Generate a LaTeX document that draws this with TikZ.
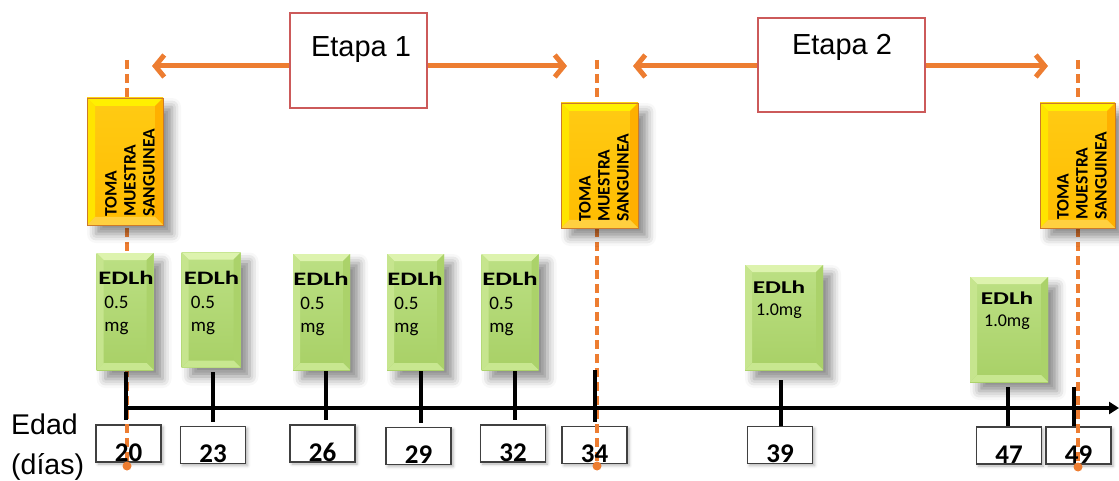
\documentclass[tikz,border=0pt]{standalone}
\usepackage{graphicx}
\usepackage{fontspec}
\setmainfont{Liberation Sans}
\newfontfamily\calfont{Carlito}
\usetikzlibrary{arrows.meta,shadows.blur}
\definecolor{orng}{HTML}{ED7D31}
\definecolor{etred}{HTML}{CC5A5A}
\definecolor{gtop}{HTML}{BCE084}
\definecolor{gbot}{HTML}{A8D066}
\definecolor{gbevT}{HTML}{DDF3AE}
\definecolor{gbevL}{HTML}{C6E58E}
\definecolor{gbevR}{HTML}{ABD26A}
\definecolor{gbevB}{HTML}{C8E790}
\definecolor{ytop}{HTML}{FFCB14}
\definecolor{ybot}{HTML}{FFBC00}
\definecolor{ybevT}{HTML}{FFF000}
\definecolor{ybevL}{HTML}{FFE400}
\definecolor{ybevR}{HTML}{FFB000}
\definecolor{ybevB}{HTML}{FFD040}
\definecolor{ybrd}{HTML}{CC7A29}
\newcommand\drawbevels[5]{%
  \path (path picture bounding box.north west) coordinate (q1)
        (path picture bounding box.north east) coordinate (q2)
        (path picture bounding box.south east) coordinate (q3)
        (path picture bounding box.south west) coordinate (q4);
  \fill[#1] (q1) -- (q2) -- ([shift={(-#5,-#5)}]q2) -- ([shift={(#5,-#5)}]q1) -- cycle;
  \fill[#2] (q1) -- ([shift={(#5,-#5)}]q1) -- ([shift={(#5,#5)}]q4) -- (q4) -- cycle;
  \fill[#3] (q2) -- (q3) -- ([shift={(-#5,#5)}]q3) -- ([shift={(-#5,-#5)}]q2) -- cycle;
  \fill[#4] (q4) -- (q3) -- ([shift={(-#5,#5)}]q3) -- ([shift={(#5,#5)}]q4) -- cycle;
}
\newcommand\edl{\scalebox{1.4}[1]{\bfseries EDLh}}
\tikzset{
  greenbox/.style={rectangle, inner sep=0pt, top color=gtop, bottom color=gbot, draw=none,
    blur shadow={shadow xshift=9pt, shadow yshift=-9pt, shadow blur radius=9pt, shadow opacity=45},
    path picture={\drawbevels{gbevT}{gbevL}{gbevR}{gbevB}{7pt}}},
  yellowbox/.style={rectangle, inner sep=0pt, top color=ytop, bottom color=ybot, draw=ybrd, line width=0.8pt,
    blur shadow={shadow xshift=9pt, shadow yshift=-9pt, shadow blur radius=9pt, shadow opacity=45},
    path picture={\drawbevels{ybevT}{ybevL}{ybevR}{ybevB}{8pt}}},
  numbox/.style={rectangle, draw=black!75, line width=1.3pt, fill=white, minimum width=65pt,
    minimum height=37pt, inner sep=0pt,
    blur shadow={shadow xshift=2pt, shadow yshift=-2pt, shadow blur radius=3pt, shadow opacity=30}},
  numtext/.style={inner sep=0pt, anchor=base, font=\calfont\bfseries\fontsize{27}{30}\selectfont},
  etbox/.style={rectangle, draw=etred, line width=1.8pt, fill=white, inner sep=0pt},
  ettext/.style={inner sep=0pt, anchor=base, font=\fontsize{29}{33}\selectfont},
  labtext/.style={inner sep=0pt, anchor=base west, font=\fontsize{28.5}{33}\selectfont},
  ytext/.style={rotate=90, align=left, inner sep=0pt, anchor=west,
    font=\calfont\bfseries\fontsize{17.5}{19}\selectfont},
  gtext/.style={align=left, inner sep=0pt, anchor=north, font=\calfont\fontsize{19}{23.5}\selectfont},
  gtextb/.style={align=center, inner sep=0pt, anchor=north, font=\calfont\fontsize{18}{22}\selectfont},
  dashln/.style={draw=orng, line width=3.5pt, dash pattern=on 9pt off 5pt},
  tickln/.style={draw=black, line width=4pt},
  axisln/.style={draw=black, line width=4pt, -{Triangle[length=10pt,width=12pt]}},
  etarrow/.style={draw=orng, line width=5pt, -{Straight Barb[length=9pt,width=22pt]}}
}
\begin{document}
\begin{tikzpicture}[x=1pt,y=-1pt]
\useasboundingbox (0,0) rectangle (1119,481);

% number boxes
\node[numbox] (n20) at (128.5,443.5) {};
\node[numbox] (n23) at (213,445) {};
\node[numbox] (n26) at (322.5,443.5) {};
\node[numbox] (n29) at (418.5,446) {};
\node[numbox] (n32) at (513,443.5) {};
\node[numbox] (n34) at (594.5,445) {};
\node[numbox] (n39) at (780,445) {};
\node[numbox] (n47) at (1009,445.5) {};
\node[numbox] (n49) at (1078.5,445.5) {};

% dashed orange lines
\coordinate (d1a) at (127,60);  \coordinate (d1b) at (127,466);
\coordinate (d2a) at (597,60);  \coordinate (d2b) at (597,466);
\coordinate (d3a) at (1078,60); \coordinate (d3b) at (1078,467);
\draw[dashln] (d1a) -- (d1b);
\draw[dashln] (d2a) -- (d2b);
\draw[dashln] (d3a) -- (d3b);
\fill[orng] (d1b) circle (4.5pt);
\fill[orng] (d2b) circle (4.5pt);
\fill[orng] (d3b) circle (4.5pt);

% numbers
\node[numtext] (t20) at ([yshift=1.5pt]n20.south) {20};
\node[numtext] (t23) at ([yshift=1.5pt]n23.south) {23};
\node[numtext] (t26) at ([yshift=1.5pt]n26.south) {26};
\node[numtext] (t29) at ([yshift=1.5pt]n29.south) {29};
\node[numtext] (t32) at ([yshift=1.5pt]n32.south) {32};
\node[numtext] (t34) at ([yshift=1.5pt]n34.south) {34};
\node[numtext] (t39) at ([yshift=1.5pt]n39.south) {39};
\node[numtext] (t47) at ([yshift=1.5pt]n47.south) {47};
\node[numtext] (t49) at ([yshift=1.5pt]n49.south) {49};

% axis
\coordinate (ax0) at (124,408);
\coordinate (ax1) at (1119,408);
\draw[axisln] (ax0) -- (ax1);

% ticks
\coordinate (k20) at (126,372);
\coordinate (k23) at (213,372);
\coordinate (k26) at (326,370);
\coordinate (k29) at (421,370);
\coordinate (k32) at (515,370);
\coordinate (k34) at (595,370);
\coordinate (k39) at (781,380);
\coordinate (k47) at (1008,387);
\coordinate (k49) at (1074,387);
\draw[tickln] (k20) -- ([yshift=4pt]k20 |- n20.north);
\draw[tickln] (k23) -- ([yshift=4pt]k23 |- n23.north);
\draw[tickln] (k26) -- ([yshift=4pt]k26 |- n26.north);
\draw[tickln] (k29) -- ([yshift=4pt]k29 |- n29.north);
\draw[tickln] (k32) -- ([yshift=4pt]k32 |- n32.north);
\draw[tickln] (k34) -- ([yshift=4pt]k34 |- n34.north);
\draw[tickln] (k39) -- (k39 |- n39.north);
\draw[tickln] (k47) -- (k47 |- n47.north);
\draw[tickln] (k49) -- (k49 |- n49.north);

% yellow boxes
\node[yellowbox, minimum width=76pt, minimum height=127pt] (y1) at (125,161.5) {};
\node[yellowbox, minimum width=77pt, minimum height=125pt] (y2) at (599.5,165.5) {};
\node[yellowbox, minimum width=75pt, minimum height=125pt] (y3) at (1077.5,165.5) {};
\node[ytext] (yt1) at (130,217) {TOMA\\MUESTRA\\SANGUINEA};
\node[ytext] (yt2) at (604,222) {TOMA\\MUESTRA\\SANGUINEA};
\node[ytext] (yt3) at (1082,220) {TOMA\\MUESTRA\\SANGUINEA};

% green boxes
\node[greenbox, minimum width=57pt, minimum height=117pt] (g20) at (125,311.5) {};
\node[greenbox, minimum width=59pt, minimum height=115pt] (g23) at (211,310) {};
\node[greenbox, minimum width=57pt, minimum height=116pt] (g26) at (321.5,312) {};
\node[greenbox, minimum width=57pt, minimum height=116pt] (g29) at (415.5,312) {};
\node[greenbox, minimum width=57pt, minimum height=116pt] (g32) at (510,312) {};
\node[greenbox, minimum width=78pt, minimum height=105pt] (g39) at (784,317.5) {};
\node[greenbox, minimum width=78pt, minimum height=105pt] (g47) at (1009,329.5) {};
\node[gtext] (gt20) at (126,271) {\edl\\\hspace*{6pt}0.5\\\hspace*{6pt}mg};
\node[gtext] (gt23) at (211.5,271) {\edl\\\hspace*{7pt}0.5\\\hspace*{7pt}mg};
\node[gtext] (gt26) at (321,272) {\edl\\\hspace*{7pt}0.5\\\hspace*{7pt}mg};
\node[gtext] (gt29) at (415,272) {\edl\\\hspace*{7pt}0.5\\\hspace*{7pt}mg};
\node[gtext] (gt32) at (510,272) {\edl\\\hspace*{7pt}0.5\\\hspace*{7pt}mg};
\node[gtextb] (gt39) at (779,281) {\edl\\1.0mg};
\node[gtextb] (gt47) at (1007,292) {\edl\\1.0mg};

% axis labels
\node[labtext] (edad) at (11,434) {Edad};
\node[labtext] (dias) at (11,474) {(días)};

% Etapa boxes and arrows
\node[etbox, minimum width=137pt, minimum height=95pt] (e1) at (358.5,60.5) {};
\node[etbox, minimum width=167pt, minimum height=94pt] (e2) at (841.5,65) {};
\node[ettext] (e1t) at (361,57) {Etapa 1};
\node[ettext] (e2t) at (842,55) {Etapa 2};
\coordinate (a1l) at (152,66);
\coordinate (a1r) at (567,66);
\coordinate (a2l) at (633,66);
\coordinate (a2r) at (1048,66);
\draw[etarrow] (e1.west |- a1l) -- (a1l);
\draw[etarrow] (e1.east |- a1r) -- (a1r);
\draw[etarrow] (e2.west |- a2l) -- (a2l);
\draw[etarrow] (e2.east |- a2r) -- (a2r);
\end{tikzpicture}
\end{document}
